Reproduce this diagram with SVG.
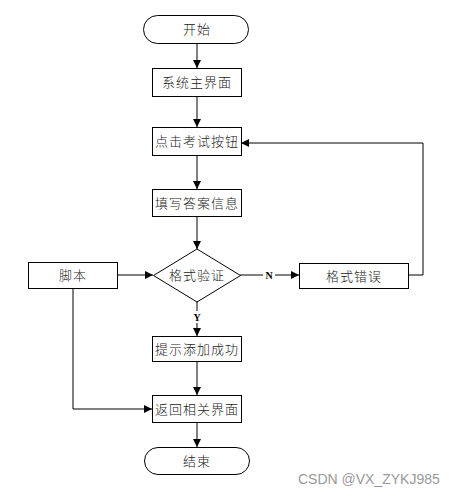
<svg xmlns="http://www.w3.org/2000/svg" width="461" height="497" viewBox="0 0 461 497">
<defs>
<marker id="ah" viewBox="0 0 10 10" refX="10" refY="5" markerWidth="8" markerHeight="8" markerUnits="userSpaceOnUse" orient="auto">
<path d="M0,0 L10,5 L0,10 z" fill="#000"/>
</marker>
<style>
.s{fill:#fff;stroke:#000;stroke-width:1}
.t{font-family:"Liberation Serif","Noto Sans CJK SC",serif;font-size:13px;font-weight:300;fill:#222;letter-spacing:1px;text-anchor:middle;dominant-baseline:central}
.c{fill:none;stroke:#000;stroke-width:1;marker-end:url(#ah)}
.l{font-family:"Liberation Serif",serif;font-size:10px;font-weight:bold;fill:#000;text-anchor:middle;dominant-baseline:central}
</style>
</defs>
<rect width="461" height="497" fill="#fff"/>
<g id="connectors">
<path class="c" d="M197,43 V68"/>
<path class="c" d="M197,96 V127"/>
<path class="c" d="M197,155 V189"/>
<path class="c" d="M197,216 V249"/>
<path class="c" d="M240,275 H299"/>
<rect x="263" y="269" width="12" height="12" fill="#fff"/>
<text class="l" x="269" y="275">N</text>
<path class="c" d="M408,275 H423 V143 H241"/>
<path class="c" d="M117,275 H153"/>
<path class="c" d="M197,301 V336"/>
<rect x="191" y="311" width="12" height="12" fill="#fff"/>
<text class="l" x="197" y="317">Y</text>
<path class="c" d="M197,361 V395"/>
<path class="c" d="M73,288 V409 H152"/>
<path class="c" d="M197,422 V447"/>
</g>
<g id="start"><rect class="s" x="143.5" y="15.5" width="105" height="28" rx="14"/><text class="t" x="197" y="29.5">开始</text></g>
<g id="main"><rect class="s" x="152.5" y="68.5" width="89" height="28"/><text class="t" x="197" y="82.5">系统主界面</text></g>
<g id="click"><rect class="s" x="152.5" y="127.5" width="89" height="28"/><text class="t" x="197" y="141.5">点击考试按钮</text></g>
<g id="fill"><rect class="s" x="152.5" y="189.5" width="89" height="27"/><text class="t" x="197" y="203">填写答案信息</text></g>
<g id="verify"><polygon class="s" points="197,249 240.5,275.5 197,302 153.5,275.5"/><text class="t" x="197" y="275.5">格式验证</text></g>
<g id="error"><rect class="s" x="299.5" y="263.5" width="109" height="25"/><text class="t" x="354" y="276">格式错误</text></g>
<g id="script"><rect class="s" x="28.5" y="262.5" width="89" height="26"/><text class="t" x="73" y="275.5">脚本</text></g>
<g id="success"><rect class="s" x="152.5" y="336.5" width="89" height="25"/><text class="t" x="197" y="349">提示添加成功</text></g>
<g id="back"><rect class="s" x="152.5" y="395.5" width="89" height="27"/><text class="t" x="197" y="409">返回相关界面</text></g>
<g id="end"><rect class="s" x="144.5" y="447.5" width="105" height="27" rx="13.5"/><text class="t" x="197" y="461">结束</text></g>
<text x="298" y="484" font-family="Liberation Sans, Arial, sans-serif" font-size="14" fill="#999">CSDN @VX_ZYKJ985</text>
</svg>
